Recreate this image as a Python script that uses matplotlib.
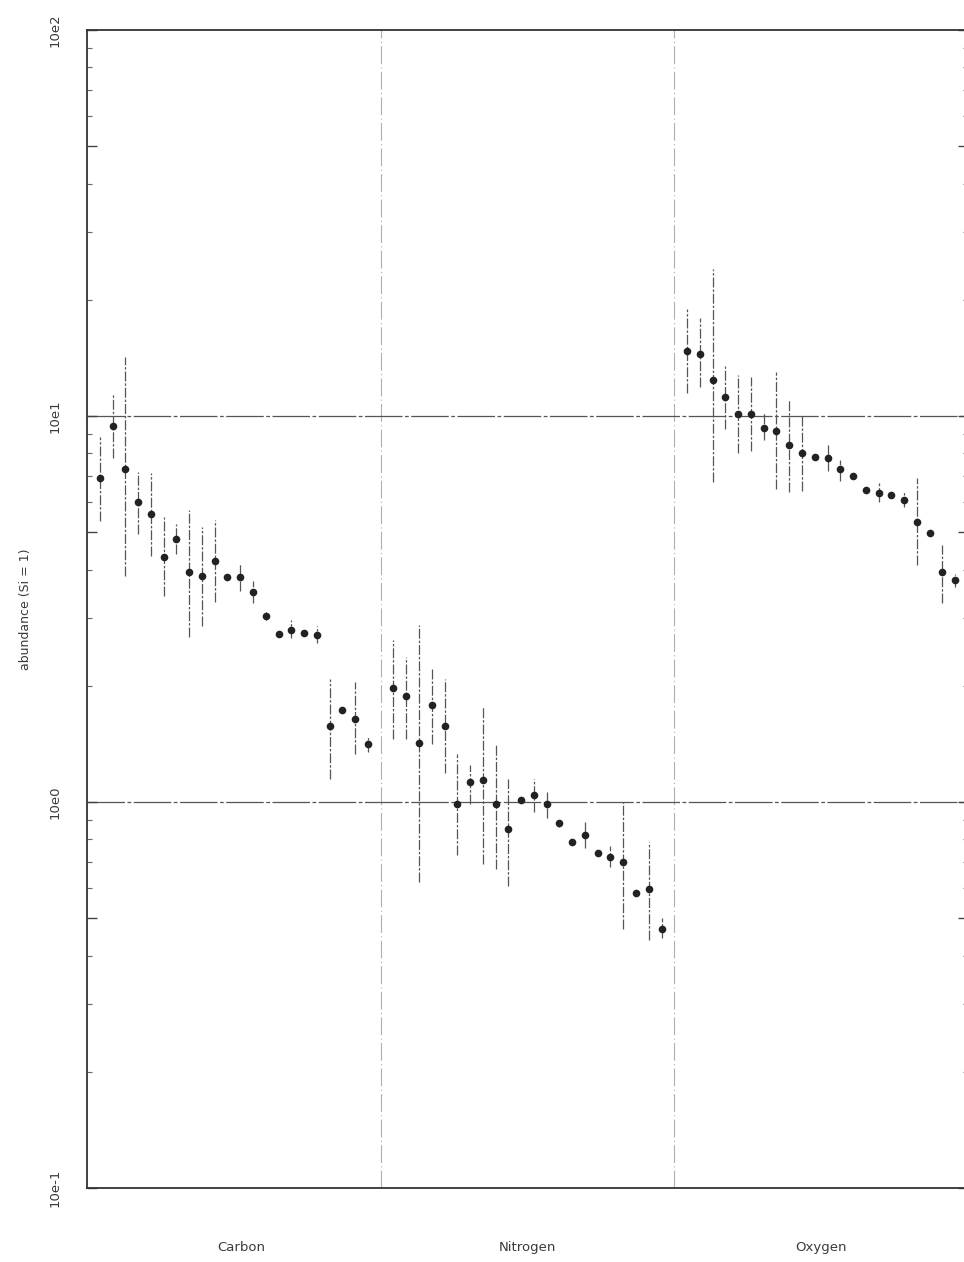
import numpy as np
import matplotlib.pyplot as plt
from matplotlib.ticker import LogLocator, FixedLocator, NullFormatter

# --- data (abundance relative to Si = 1) ---
groups = ['Carbon', 'Nitrogen', 'Oxygen']

carbon    = [6.9, 9.43, 7.27, 5.98, 5.57, 4.3, 4.81, 3.94, 3.85, 4.2, 3.82,
             3.82, 3.5, 3.03, 2.73, 2.79, 2.74, 2.71, 1.57, 1.73, 1.64, 1.41]
carbon_hi = [8.8, 11.5, 14.2, 7.18, 7.1, 5.47, 5.25, 5.7, 5.16, 5.38, 3.82,
             4.17, 3.73, 3.1, 2.73, 2.96, 2.74, 2.86, 2.08, 1.73, 2.04, 1.47]
carbon_lo = [5.35, 7.8, 3.85, 4.95, 4.35, 3.41, 4.4, 2.67, 2.86, 3.3, 3.82,
             3.52, 3.28, 2.97, 2.73, 2.66, 2.74, 2.58, 1.15, 1.73, 1.33, 1.35]

nitrogen    = [1.97, 1.88, 1.42, 1.78, 1.57, 0.99, 1.13, 1.14, 0.99, 0.85, 1.01,
               1.04, 0.99, 0.88, 0.79, 0.82, 0.736, 0.72, 0.70, 0.58, 0.595, 0.47]
nitrogen_hi = [2.63, 2.38, 2.88, 2.22, 2.08, 1.33, 1.25, 1.77, 1.41, 1.15, 1.01,
               1.15, 1.06, 0.9, 0.79, 0.89, 0.736, 0.77, 1.0, 0.58, 0.79, 0.50]
nitrogen_lo = [1.46, 1.46, 0.62, 1.41, 1.19, 0.727, 0.99, 0.69, 0.67, 0.605, 1.01,
               0.94, 0.91, 0.86, 0.79, 0.76, 0.736, 0.68, 0.47, 0.58, 0.44, 0.445]

oxygen    = [14.7, 14.5, 12.4, 11.2, 10.1, 10.1, 9.3, 9.15, 8.43, 8.04, 7.85,
             7.8, 7.27, 7.0, 6.42, 6.3, 6.24, 6.05, 5.32, 4.98, 3.94, 3.75]
oxygen_hi = [18.9, 17.9, 24.1, 13.5, 12.8, 12.6, 10.2, 13.0, 11.1, 10.05, 7.85,
             8.43, 7.68, 7.0, 6.42, 6.7, 6.24, 6.35, 6.9, 4.98, 4.64, 3.9]
oxygen_lo = [11.5, 11.9, 6.73, 9.26, 8.04, 8.1, 8.67, 6.46, 6.35, 6.4, 7.85,
             7.2, 6.8, 7.0, 6.42, 6.0, 6.24, 5.8, 4.1, 4.98, 3.28, 3.6]

series = [(carbon, carbon_lo, carbon_hi),
          (nitrogen, nitrogen_lo, nitrogen_hi),
          (oxygen, oxygen_lo, oxygen_hi)]

ytick_vals = [0.1, 0.5, 1, 5, 10, 50, 100]
ytick_labels = ['10e-1', '', '10e0', '', '10e1', '', '10e2']

# --- figure ---
fig = plt.figure(figsize=(9.64, 12.62), dpi=100)
# axes run a little past the right edge, as in the original scan
ax = fig.add_axes([87 / 964, 74 / 1262, 881 / 964, 1158 / 1262])

slot = 23  # each group spans 23 slots, 22 measurements
txt_col = '#3a3a3a'

for g, (vals, lo, hi) in enumerate(series):
    vals = np.asarray(vals)
    lo = np.asarray(lo)
    hi = np.asarray(hi)
    x = g * slot + 1 + np.arange(len(vals))
    ax.vlines(x, lo, hi, colors='#555555', linewidth=0.9,
              linestyles=(0, (8, 1.5, 2, 1.5)), zorder=2)
    ax.plot(x, vals, 'o', color='#222222', markersize=5.5,
            markeredgewidth=0, zorder=3)
    if g > 0:
        ax.axvline(g * slot, color='#b0b0b0', linewidth=0.8,
                   linestyle=(0, (16, 3, 1, 3)), zorder=1)

for yv in [1, 10]:
    ax.axhline(yv, color='#555555', linewidth=0.9,
               linestyle=(0, (30, 2, 3, 2)), zorder=1)

ax.set_yscale('log')
ax.set_ylim(0.1, 100)
ax.set_xlim(0, slot * len(groups))

ax.yaxis.set_major_locator(FixedLocator(ytick_vals))
ax.set_yticks(ytick_vals)
ax.set_yticklabels(ytick_labels, rotation=90, va='center', fontsize=9.5,
                   color=txt_col)
ax.yaxis.set_minor_locator(LogLocator(base=10, subs=[2, 3, 4, 6, 7, 8, 9]))
ax.yaxis.set_minor_formatter(NullFormatter())
ax.tick_params(axis='y', which='major', direction='in', length=7, width=1,
               color='#444444', pad=18, left=True, right=True)
ax.tick_params(axis='y', which='minor', direction='in', length=3.5,
               width=0.8, color='#666666', left=True, right=True)

ax.set_xticks([g * slot + slot / 2 + (0.6 if g == 0 else 0) for g in range(len(groups))])
ax.set_xticklabels(groups, fontsize=9.5, color=txt_col)
ax.tick_params(axis='x', length=0, pad=38)

ax.set_ylabel('abundance (Si = 1)', fontsize=9, color=txt_col, labelpad=12)

for side in ['left', 'bottom', 'top', 'right']:
    ax.spines[side].set_color('#333333')
    ax.spines[side].set_linewidth(1.3)

fig.savefig('out.png', dpi=100, facecolor='white')
